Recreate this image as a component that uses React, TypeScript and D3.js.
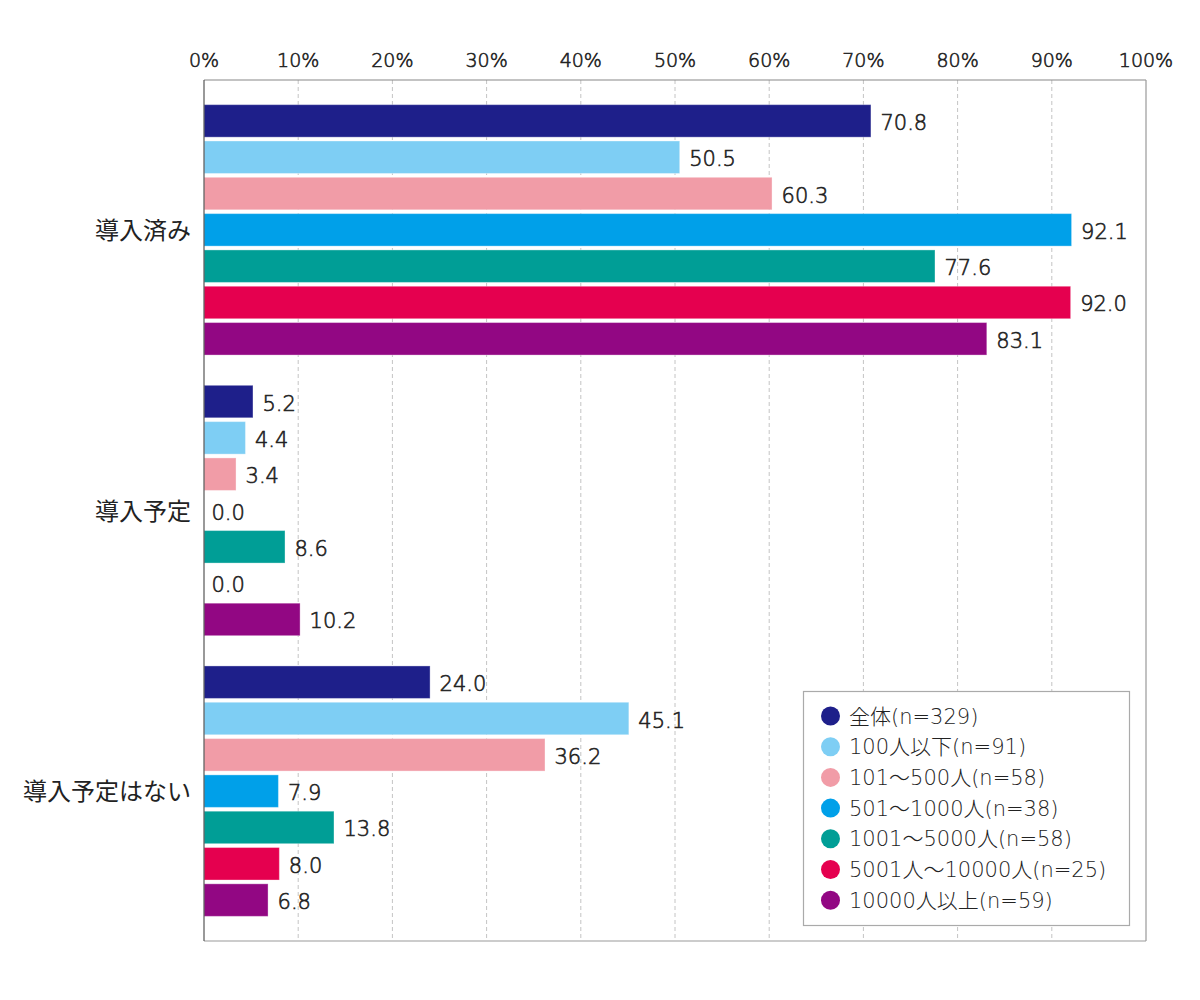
import React from "react";
import * as d3 from "d3";

const categories = ["導入済み", "導入予定", "導入予定はない"];
const series = [
  "全体(n=329)",
  "100人以下(n=91)",
  "101～500人(n=58)",
  "501～1000人(n=38)",
  "1001～5000人(n=58)",
  "5001人～10000人(n=25)",
  "10000人以上(n=59)",
];
const colors = ["#1e1f8a", "#7ecef4", "#f19ca7", "#00a0e9", "#009e96", "#e5004f", "#920783"];
const values: number[][] = [
  [70.8, 50.5, 60.3, 92.1, 77.6, 92.0, 83.1],
  [5.2, 4.4, 3.4, 0.0, 8.6, 0.0, 10.2],
  [24.0, 45.1, 36.2, 7.9, 13.8, 8.0, 6.8],
];
const ticks = [0, 10, 20, 30, 40, 50, 60, 70, 80, 90, 100];

const FONT = "'DejaVu Sans', 'Noto Sans CJK JP', sans-serif";
const CJK = "'Noto Sans CJK JP', sans-serif";
const TEXT = "#222";

export default function App() {
  const W = 1200;
  const H = 1000;
  const left = 204;
  const right = 1146;
  const top = 80;
  const bottom = 941;

  const x = d3.scaleLinear().domain([0, 100]).range([left, right]);
  const y = d3.scaleBand<string>().domain(categories).range([top, bottom]).paddingOuter(0.034).paddingInner(0);
  const inner = d3.scaleBand<string>().domain(series).range([-125.2, 125.2]).paddingInner(0.105).paddingOuter(0);

  const thin = { fontWeight: 300, fill: TEXT, stroke: TEXT, strokeWidth: 0.6 } as const;

  return (
    <svg width={W} height={H} style={{ position: "absolute", left: 0, top: 0 }} fontFamily={FONT}>
      <rect x={0} y={0} width={W} height={H} fill="#fff" />
      {/* grid */}
      {ticks.slice(1, -1).map((t) => (
        <line key={t} x1={x(t)} x2={x(t)} y1={top} y2={bottom} stroke="#c4c4c4" strokeWidth={1} strokeDasharray="4,3" />
      ))}
      {/* border */}
      <line x1={left} x2={right} y1={top} y2={top} stroke="#888" strokeWidth={1.2} />
      <line x1={right} x2={right} y1={top} y2={bottom} stroke="#999" strokeWidth={1.2} />
      <line x1={left} x2={right} y1={bottom} y2={bottom} stroke="#999" strokeWidth={1.2} />
      {/* tick labels */}
      {ticks.map((t) => (
        <text key={t} x={x(t)} y={67} fontSize={19} textAnchor="middle" {...thin}>
          {t}%
        </text>
      ))}
      {/* bars */}
      {categories.map((c, ci) => {
        const cy = (y(c) as number) + y.bandwidth() / 2;
        return (
          <g key={c}>
            {series.map((s, si) => {
              const v = values[ci][si];
              const by = cy + (inner(s) as number);
              const bw = x(v) - x(0);
              return (
                <g key={s}>
                  {v > 0 && (
                    <rect x={x(0)} y={by} width={bw} height={inner.bandwidth()} fill={colors[si]} stroke="rgba(255,255,255,0.35)" strokeWidth={1} />
                  )}
                  <text x={x(v) + (v > 0 ? 9.5 : 7.5)} y={by + inner.bandwidth() / 2 + 9} fontSize={21} {...thin}>
                    {v.toFixed(1)}
                  </text>
                </g>
              );
            })}
            <text x={191} y={cy + 9} fontSize={24} fontFamily={CJK} textAnchor="end" fill={TEXT}>
              {c}
            </text>
          </g>
        );
      })}
      {/* axis left line */}
      <line x1={left} x2={left} y1={top} y2={bottom} stroke="#555" strokeWidth={1.2} />
      {/* legend */}
      <g>
        <rect x={803.5} y={691.5} width={326} height={234} fill="#fff" stroke="#aaa" strokeWidth={1.2} />
        {series.map((l, i) => (
          <g key={l} transform={`translate(0, ${716 + i * 30.7})`}>
            <circle cx={830.5} cy={0} r={9.5} fill={colors[i]} />
            <text x={849} y={7.5} fontSize={21} fontWeight={300} fill={TEXT}>
              {l}
            </text>
          </g>
        ))}
      </g>
    </svg>
  );
}
